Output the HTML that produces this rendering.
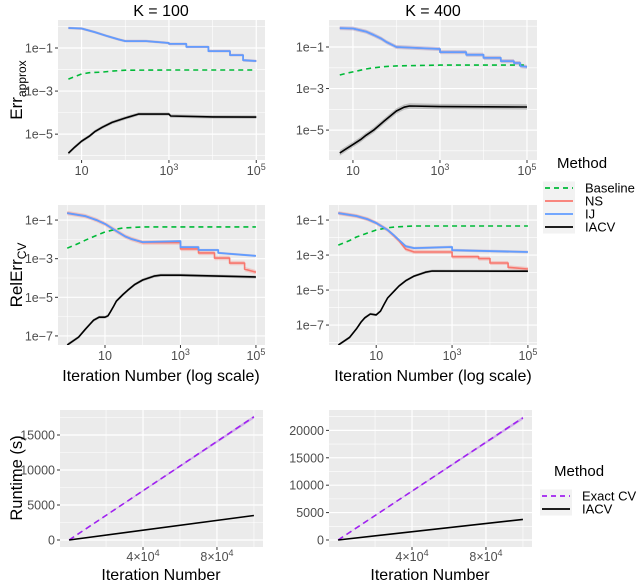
<!DOCTYPE html>
<html><head><meta charset="utf-8">
<style>
html,body{margin:0;padding:0;background:#fff;}
svg{display:block;font-family:"Liberation Sans",sans-serif;}
</style></head>
<body>
<svg id="chart" width="640" height="582" viewBox="0 0 640 582" xmlns="http://www.w3.org/2000/svg"></svg>
<script>
// ---- data ----
const ij100Iter=[5,10,20,40,70,100,300,1000,1000,2500,2500,8000,8000,25000,25000,50000,50000,100000];
const ij100Err=[0.85,0.8,0.55,0.35,0.25,0.21,0.21,0.17,0.155,0.155,0.112,0.112,0.072,0.072,0.047,0.047,0.027,0.025];
const base100Iter=[5,7,10,15,30,50,100,1000,100000];
const base100Err=[0.0036,0.0047,0.0062,0.0071,0.0076,0.0085,0.0093,0.0095,0.0095];
const iacv100Iter=[5,7,10,15,20,30,50,100,200,1000,1100,10000,100000];
const iacv100Err=[1.3e-6,2.5e-6,4.7e-6,8e-6,1.3e-5,2.1e-5,3.5e-5,5.6e-5,8.5e-5,8.5e-5,7e-5,6.3e-5,6.2e-5];

const ij400Iter=[5,10,20,30,45,60,100,1000,1000,4000,4000,10000,10000,25000,25000,50000,50000,70000,70000,100000];
const ij400Err=[0.81,0.78,0.55,0.38,0.25,0.17,0.1,0.08,0.057,0.057,0.042,0.042,0.03,0.03,0.021,0.021,0.017,0.017,0.012,0.011];
const base400Iter=[5,7,10,20,30,50,100,1000,100000];
const base400Err=[0.0045,0.0054,0.0063,0.0087,0.01,0.0113,0.0123,0.0134,0.0134];
const iacv400Iter=[5,7,10,15,20,30,50,100,150,200,1000,100000];
const iacv400Err=[7.9e-7,1.26e-6,2e-6,3.5e-6,5.6e-6,1e-5,2.5e-5,8.3e-5,1.26e-4,1.45e-4,1.35e-4,1.3e-4];

const ijRel100Iter=[1,3,6,10,20,35,50,100,1000,1000,3000,3000,10000,10000,100000];
const ijRel100Err=[0.23,0.16,0.1,0.063,0.027,0.014,0.0105,0.0072,0.0081,0.004,0.004,0.0028,0.0028,0.002,0.0014];
const nsRel100Iter=[1,3,6,10,20,35,50,100,1000,1000,3000,3000,8000,8000,20000,20000,50000,50000,100000];
const nsRel100Err=[0.23,0.16,0.1,0.063,0.027,0.014,0.0105,0.0068,0.0068,0.0032,0.0032,0.002,0.002,0.00107,0.00107,0.00059,0.00059,0.00029,0.0002];
const baseRel100Iter=[1,2,3,5,10,20,30,100,100000];
const baseRel100Err=[0.0035,0.0062,0.0091,0.014,0.024,0.034,0.039,0.044,0.044];
const iacvRel100Iter=[1,2,3,4,5,7,10,12,14,17,20,30,40,60,100,200,300,1000,100000];
const iacvRel100Err=[3.4e-8,8.7e-8,2.2e-7,4.1e-7,6.5e-7,9.3e-7,9.3e-7,1.1e-6,1.8e-6,3.5e-6,6.3e-6,1.4e-5,2.3e-5,4.5e-5,7.9e-5,1.25e-4,1.4e-4,1.4e-4,1.12e-4];

const ijRel400Iter=[1,3,6,10,20,30,40,60,100,1000,1000,100000];
const ijRel400Err=[0.25,0.17,0.11,0.068,0.027,0.013,0.0072,0.0032,0.0025,0.0029,0.0019,0.0015];
const nsRel400Iter=[1,3,6,10,20,30,40,60,100,1000,1000,5000,5000,10000,10000,30000,30000,100000];
const nsRel400Err=[0.25,0.17,0.11,0.068,0.027,0.012,0.0065,0.0022,0.0015,0.0015,0.0008,0.0008,0.00063,0.00063,0.00035,0.00035,0.0002,0.00016];
const baseRel400Iter=[1,2,3,5,10,20,30,100,100000];
const baseRel400Err=[0.0037,0.0068,0.0107,0.016,0.027,0.036,0.04,0.046,0.046];
const iacvRel400Iter=[1,2,3,4,5,7,10,13,16,20,30,40,60,100,200,300,100000];
const iacvRel400Err=[7.2e-9,2e-8,6e-8,1.5e-7,2.6e-7,4.3e-7,3.8e-7,6.3e-7,1.5e-6,3.5e-6,9e-6,1.7e-5,3.4e-5,6.3e-5,1.05e-4,1.23e-4,1.2e-4];

const rtIter=[0,100000];
const exact100Rt=[0,17600];
const iacv100Rt=[0,3500];
const exact400Rt=[0,22300];
const iacv400Rt=[0,3750];

const logXTicks=[1,3,5];
const topYTicks=[-1,-3,-5];
const midYTicks=[-1,-3,-5,-7];
const rt100YTicks=[0,5000,10000,15000];
const rt400YTicks=[0,5000,10000,15000,20000];
const rtXTicks=[40000,80000];

const NS='http://www.w3.org/2000/svg';
const svg=document.getElementById('chart');
function mk(tag,attrs,parent){const e=document.createElementNS(NS,tag);for(const k in attrs)e.setAttribute(k,attrs[k]);(parent||svg).appendChild(e);return e;}
const COL={base:'#00BA38',ns:'#F8766D',ij:'#619CFF',iacv:'#000000',exact:'#A020F0'};

function panel(name,box,xd,yd,isLog){
  const g=mk('g',{});
  
  
  const sx=v=>{const t=isLog?Math.log10(v):v;return box.x+(t-xd[0])/(xd[1]-xd[0])*box.w;};
  const sy=v=>{const t=isLog?Math.log10(v):v;return box.y+box.h-(t-yd[0])/(yd[1]-yd[0])*box.h;};
  const bg=mk('rect',{x:box.x,y:box.y,width:box.w,height:box.h,fill:'#EBEBEB'},g);
  
  
  return {g,sx,sy,box,xd,yd};
}
function gridX(p,pos,w){pos.forEach(v=>{if(v<p.xd[0]||v>p.xd[1])return;const x=p.box.x+(v-p.xd[0])/(p.xd[1]-p.xd[0])*p.box.w;const l=mk('line',{x1:x,x2:x,y1:p.box.y,y2:p.box.y+p.box.h,stroke:'#fff','stroke-width':w},p.g);});}
function gridY(p,pos,w){pos.forEach(v=>{if(v<p.yd[0]||v>p.yd[1])return;const y=p.box.y+p.box.h-(v-p.yd[0])/(p.yd[1]-p.yd[0])*p.box.h;const l=mk('line',{x1:p.box.x,x2:p.box.x+p.box.w,y1:y,y2:y,stroke:'#fff','stroke-width':w},p.g);});}
function tyPix(p,v){return p.box.y+p.box.h-(v-p.yd[0])/(p.yd[1]-p.yd[0])*p.box.h;}
function txPix(p,v){return p.box.x+(v-p.xd[0])/(p.xd[1]-p.xd[0])*p.box.w;}
function yTicks(p,vals,fmt){vals.forEach(v=>{const y=tyPix(p,v);mk('line',{x1:p.box.x-3,x2:p.box.x,y1:y,y2:y,stroke:'#333','stroke-width':1},p.g);const t=mk('text',{x:p.box.x-5,y:y+4.5,'text-anchor':'end','font-size':12.5,fill:'#4D4D4D'},p.g);t.textContent=fmt(v);});}
function xTicks(p,vals,base,sup,yoff){vals.forEach(v=>{const x=txPix(p,v);mk('line',{x1:x,x2:x,y1:p.box.y+p.box.h,y2:p.box.y+p.box.h+3,stroke:'#333','stroke-width':1},p.g);const t=mk('text',{x:x,y:p.box.y+p.box.h+yoff,'text-anchor':'middle','font-size':12.5,fill:'#4D4D4D'},p.g);const s=sup(v);t.appendChild(document.createTextNode(base(v)));if(s!==''){const ts=mk('tspan',{dy:-5,'font-size':9},t);ts.textContent=s;}});}
function line(p,xs,ys,col,w,dash,name){const d=xs.map((v,i)=>(i?'L':'M')+p.sx(v).toFixed(1)+','+p.sy(ys[i]).toFixed(1)).join('');const a={d:d,fill:'none',stroke:col,'stroke-width':w,'stroke-linejoin':'round'};if(dash)a['stroke-dasharray']=dash;const e=mk('path',a,p.g);return e;}
function ribbon(p,xs,ys,col,op,fac,name){const up=xs.map((v,i)=>p.sx(v).toFixed(1)+','+p.sy(ys[i]*fac).toFixed(1));const lo=xs.map((v,i)=>p.sx(v).toFixed(1)+','+p.sy(ys[i]/fac).toFixed(1)).reverse();const e=mk('polygon',{points:up.concat(lo).join(' '),fill:col,'fill-opacity':op},p.g);}
function clip(p,id){const cp=mk('clipPath',{id:id});mk('rect',{x:p.box.x,y:p.box.y,width:p.box.w,height:p.box.h},cp);const g=mk('g',{'clip-path':'url(#'+id+')'},p.g);return g;}
function text(x,y,s,size,anchor,name,rot){const a={x:x,y:y,'font-size':size,'text-anchor':anchor||'middle',fill:'#000'};if(rot)a.transform='rotate(-90 '+x+' '+y+')';const t=mk('text',a);t.textContent=s;return t;}

const logFmt=v=>'1e'+(v<0?'\u2212':'')+Math.abs(v);
const xBase=v=>'10';const xSup=v=>v===1?'':String(v);

function logPanel(name,box,xd,yd,yt,minX,minY,series,cid){
  const p=panel(name,box,xd,yd,true);
  gridX(p,minX,0.6);gridY(p,minY,0.6);gridX(p,logXTicks,1.2);gridY(p,yt,1.2);
  const old=p.g;p.g=clip(p,cid);
  series(p);
  p.g=old;
  yTicks(p,yt,logFmt);xTicks(p,logXTicks,xBase,xSup,15);
  return p;
}

logPanel('panel-err-k100',{x:58,y:20,w:207,h:140},[0.46,5.2],[-6.2,0.3],topYTicks,[0,2,4],[0,-2,-4,-6],p=>{
  ribbon(p,ij100Iter,ij100Err,'#8E6FA8',0.35,1.15,'ns-ij-ribbon');
  ribbon(p,iacv100Iter,iacv100Err,'#555',0.3,1.2,'iacv-ribbon');
  line(p,base100Iter,base100Err,COL.base,1.6,'5,4','baseline-line');
  line(p,ij100Iter,ij100Err,COL.ns,1.5,null,'ns-line');
  line(p,ij100Iter,ij100Err,COL.ij,1.8,null,'ij-line');
  line(p,iacv100Iter,iacv100Err,COL.iacv,1.6,null,'iacv-line');
},'c1');
logPanel('panel-err-k400',{x:329,y:20,w:208,h:140},[0.45,5.23],[-6.44,0.3],topYTicks,[0,2,4],[0,-2,-4,-6],p=>{
  ribbon(p,ij400Iter,ij400Err,'#8E6FA8',0.35,1.25,'ns-ij-ribbon');
  ribbon(p,iacv400Iter,iacv400Err,'#555',0.3,1.35,'iacv-ribbon');
  line(p,base400Iter,base400Err,COL.base,1.6,'5,4','baseline-line');
  line(p,ij400Iter,ij400Err,COL.ns,1.5,null,'ns-line');
  line(p,ij400Iter,ij400Err,COL.ij,1.8,null,'ij-line');
  line(p,iacv400Iter,iacv400Err,COL.iacv,1.6,null,'iacv-line');
},'c2');
logPanel('panel-relerr-k100',{x:58,y:205,w:207,h:140},[-0.245,5.24],[-7.47,-0.22],midYTicks,[0,2,4],[-2,-4,-6],p=>{
  ribbon(p,nsRel100Iter,nsRel100Err,COL.ns,0.3,1.3,'ns-ribbon');
  ribbon(p,ijRel100Iter,ijRel100Err,'#8E6FA8',0.3,1.15,'ij-ribbon');
  ribbon(p,iacvRel100Iter,iacvRel100Err,'#555',0.3,1.2,'iacv-ribbon');
  line(p,baseRel100Iter,baseRel100Err,COL.base,1.6,'5,4','baseline-line');
  line(p,nsRel100Iter,nsRel100Err,COL.ns,1.6,null,'ns-line');
  line(p,ijRel100Iter,ijRel100Err,COL.ij,1.8,null,'ij-line');
  line(p,iacvRel100Iter,iacvRel100Err,COL.iacv,1.6,null,'iacv-line');
},'c3');
logPanel('panel-relerr-k400',{x:329,y:205,w:208,h:140},[-0.245,5.24],[-8.14,-0.14],midYTicks,[0,2,4],[-2,-4,-6,-8],p=>{
  ribbon(p,nsRel400Iter,nsRel400Err,COL.ns,0.3,1.3,'ns-ribbon');
  ribbon(p,ijRel400Iter,ijRel400Err,'#8E6FA8',0.3,1.2,'ij-ribbon');
  ribbon(p,iacvRel400Iter,iacvRel400Err,'#555',0.3,1.2,'iacv-ribbon');
  line(p,baseRel400Iter,baseRel400Err,COL.base,1.6,'5,4','baseline-line');
  line(p,nsRel400Iter,nsRel400Err,COL.ns,1.6,null,'ns-line');
  line(p,ijRel400Iter,ijRel400Err,COL.ij,1.8,null,'ij-line');
  line(p,iacvRel400Iter,iacvRel400Err,COL.iacv,1.6,null,'iacv-line');
},'c4');

function rtPanel(name,box,yd,yt,minY,ex,ia){
  const p=panel(name,box,[-4900,104900],yd,false);
  gridX(p,[20000,60000,100000],0.6);gridY(p,minY,0.6);
  gridX(p,rtXTicks,1.2);gridY(p,yt,1.2);
  const pu=rtIter.map((v,i)=>p.sx(v).toFixed(1)+','+p.sy(ex[i]*1.01).toFixed(1));
  const pl=rtIter.map((v,i)=>p.sx(v).toFixed(1)+','+p.sy(ex[i]*0.985).toFixed(1)).reverse();
  const rb=mk('polygon',{points:pu.concat(pl).join(' '),fill:'#C8A0E8','fill-opacity':0.8},p.g);
  
  
  line(p,rtIter,ex,COL.exact,1.6,'6,4','exact-cv-line');
  line(p,rtIter,ia,COL.iacv,1.6,null,'iacv-runtime-line');
  yTicks(p,yt,v=>String(v));
  xTicks(p,rtXTicks,v=>(v/10000)+'\u00d710',v=>'4',14);
}
rtPanel('panel-runtime-k100',{x:60,y:410,w:203,h:137},[-1000,18570],rt100YTicks,[2500,7500,12500,17500],exact100Rt,iacv100Rt);
rtPanel('panel-runtime-k400',{x:329,y:410,w:203,h:137},[-1280,23720],rt400YTicks,[2500,7500,12500,17500,22500],exact400Rt,iacv400Rt);

text(161,16,'K = 100',16,'middle','facet-title-k100');
text(433,16,'K = 400',16,'middle','facet-title-k400');
function subLabel(x,y,main,sub,name){const t=mk('text',{x:x,y:y,'font-size':17,'text-anchor':'middle',fill:'#000',transform:'rotate(-90 '+x+' '+y+')'});t.appendChild(document.createTextNode(main));const s=mk('tspan',{dy:4,'font-size':12},t);s.textContent=sub;}
subLabel(22,90,'Err','approx','y-axis-title-err-approx');
subLabel(22,275,'RelErr','CV','y-axis-title-relerr-cv');
text(22,478,'Runtime (s)',16.5,'middle','y-axis-title-runtime',true);
text(161,381,'Iteration Number (log scale)',16,'middle','x-axis-title-log-left');
text(433,381,'Iteration Number (log scale)',16,'middle','x-axis-title-log-right');
text(161,580,'Iteration Number',16,'middle','x-axis-title-runtime-left');
text(430,580,'Iteration Number',16,'middle','x-axis-title-runtime-right');

function legend(name,x,y,items){
  const g=mk('g',{});
  const t=mk('text',{x:x+14,y:y,'font-size':15,fill:'#000'},g);t.textContent='Method';
  items.forEach((it,i)=>{const cy=y+20+i*13;
    mk('rect',{x:x,y:cy-6.5,width:32,height:13,fill:'#F2F2F2'},g);
    const a={x1:x+2,x2:x+30,y1:cy,y2:cy,stroke:it.c,'stroke-width':1.8};if(it.d)a['stroke-dasharray']=it.d;
    const l=mk('line',a,g);
    const tx=mk('text',{x:x+42,y:cy+4.5,'font-size':13,fill:'#000'},g);tx.textContent=it.n;
    });
}
legend('legend-error',543,168,[{n:'Baseline',c:COL.base,d:'5,4'},{n:'NS',c:COL.ns},{n:'IJ',c:COL.ij},{n:'IACV',c:COL.iacv}]);
legend('legend-runtime',540,476,[{n:'Exact CV',c:COL.exact,d:'5,4'},{n:'IACV',c:COL.iacv}]);
</script>
</body></html>
